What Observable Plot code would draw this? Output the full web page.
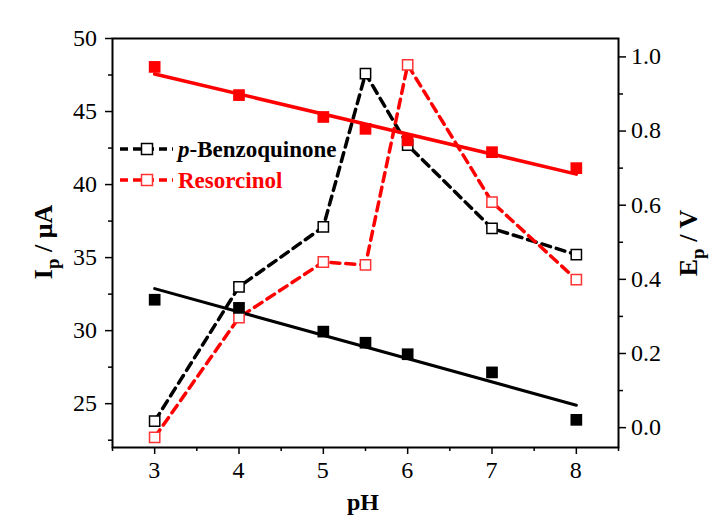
<!DOCTYPE html>
<html>
<head>
<meta charset="utf-8">
<script src="https://cdn.jsdelivr.net/npm/d3@7"></script>
<script src="https://cdn.jsdelivr.net/npm/@observablehq/plot@0.6"></script>
<style>
  html, body { margin: 0; padding: 0; background: #fff; }
  #chart svg { display: block; }
  #chart svg text, #chart svg tspan { font-family: "Liberation Serif", serif !important; }
</style>
</head>
<body>
<div id="chart"></div>
<script>
// ---- data ----
const ph = [3, 4, 5, 5.5, 6, 7, 8];
const ipBenzoquinone = [23.8, 33.0, 37.1, 47.6, 42.7, 37.0, 35.2];   // µA (left axis)
const ipResorcinol   = [22.7, 30.9, 34.7, 34.5, 48.2, 38.8, 33.5];   // µA (left axis)
const epBenzoquinone = [0.345, 0.323, 0.259, 0.229, 0.198, 0.149, 0.021]; // V (right axis)
const epResorcinol   = [0.973, 0.897, 0.838, 0.806, 0.775, 0.743, 0.700]; // V (right axis)
const xTicks = [3, 4, 5, 6, 7, 8];
const xMinor = [2.5, 3.5, 4.5, 5.5, 6.5, 7.5, 8.5];
const yLeftTicks = [25, 30, 35, 40, 45, 50];
const yLeftMinor = [22.5, 27.5, 32.5, 37.5, 42.5, 47.5];
const yRightTicks = [0.0, 0.2, 0.4, 0.6, 0.8, 1.0];
const yRightMinor = [0.1, 0.3, 0.5, 0.7, 0.9];
const seriesNames = ["Benzoquinone", "Resorcinol"];

// map right axis (V) into left-axis units (µA)
const toLeft = e => 23.36 + e * 25.38;

const ipRows = (arr) => ph.map((p, i) => ({ph: p, v: arr[i]}));
const epRows = (arr) => ph.map((p, i) => ({ph: p, v: toLeft(arr[i])}));

const bqIp = ipRows(ipBenzoquinone), resIp = ipRows(ipResorcinol);
const bqEp = epRows(epBenzoquinone), resEp = epRows(epResorcinol);

const RED = "#ff0000";
const FONT = "Liberation Serif";

const majorStyle = {tickSize: 7, strokeWidth: 1.5, tickFormat: () => "", label: null};
const minorStyle = {tickSize: 4, strokeWidth: 1.5, tickFormat: () => "", label: null};

const svg = Plot.plot({
  width: 709,
  height: 518,
  marginLeft: 112,
  marginRight: 91,
  marginTop: 38,
  marginBottom: 71,
  style: {background: "#fff", color: "#000"},
  x: {domain: [2.5, 8.5], label: null},
  y: {domain: [22, 50], label: null},
  marks: [
    Plot.axisY(yLeftTicks, {anchor: "left", ...majorStyle}),
    Plot.axisY(yLeftMinor, {anchor: "left", ...minorStyle}),
    Plot.axisY(yRightTicks.map(toLeft), {anchor: "right", ...majorStyle}),
    Plot.axisY(yRightMinor.map(toLeft), {anchor: "right", ...minorStyle}),
    Plot.axisX(xTicks, {anchor: "bottom", ...majorStyle}),
    Plot.axisX(xMinor, {anchor: "bottom", ...minorStyle}),
    // dashed current curves
    Plot.line(bqIp, {x: "ph", y: "v", stroke: "black", strokeWidth: 3.5, strokeDasharray: "9,6"}),
    Plot.line(resIp, {x: "ph", y: "v", stroke: RED, strokeWidth: 3.5, strokeDasharray: "9,6"}),
    // linear fits of peak potentials
    Plot.linearRegressionY(bqEp, {x: "ph", y: "v", stroke: "black", strokeWidth: 3, ci: 0}),
    Plot.linearRegressionY(resEp, {x: "ph", y: "v", stroke: RED, strokeWidth: 3.5, ci: 0}),
    // open squares (Ip)
    Plot.dot(bqIp, {x: "ph", y: "v", symbol: "square", r: 5.8, fill: "white", stroke: "black", strokeWidth: 1.5}),
    Plot.dot(resIp, {x: "ph", y: "v", symbol: "square", r: 5.8, fill: "white", stroke: "#f33", strokeWidth: 1.5}),
    // filled squares (Ep)
    Plot.dot(bqEp, {x: "ph", y: "v", symbol: "square", r: 6.6, fill: "black"}),
    Plot.dot(resEp, {x: "ph", y: "v", symbol: "square", r: 6.6, fill: RED}),
    Plot.frame({stroke: "black", strokeWidth: 2})
  ]
});

const s = d3.select(svg);
const xs = svg.scale("x"), ys = svg.scale("y");
const mk = (sel) => sel.attr("font-family", FONT).attr("font-size", 24).attr("fill", "black")
  .style("font-family", FONT).style("font-variant", "normal");

// tick labels, positioned with Plot's own scales
const tl = s.append("g");
yLeftTicks.forEach(v => mk(tl.append("text")).attr("x", 97).attr("y", ys.apply(v)).attr("dy", "0.33em")
  .attr("text-anchor", "end").text(String(v)));
yRightTicks.forEach(v => mk(tl.append("text")).attr("x", 631).attr("y", ys.apply(toLeft(v))).attr("dy", "0.33em")
  .attr("text-anchor", "start").text(v.toFixed(1)));
xTicks.forEach(v => mk(tl.append("text")).attr("x", xs.apply(v)).attr("y", 478)
  .attr("text-anchor", "middle").text(String(v)));

// axis titles
const lt = s.append("text")
  .attr("transform", "translate(52,242) rotate(-90)")
  .attr("text-anchor", "middle")
  .attr("font-weight", "bold").attr("font-size", 26).attr("fill", "black");
lt.append("tspan").text("I");
lt.append("tspan").attr("dy", 7).attr("font-size", 19).text("p");
lt.append("tspan").attr("dy", -7).text(" / μA");

const rt = s.append("text")
  .attr("transform", "translate(697,243) rotate(-90)")
  .attr("text-anchor", "middle")
  .attr("font-weight", "bold").attr("font-size", 26).attr("fill", "black");
rt.append("tspan").text("E");
rt.append("tspan").attr("dy", 7).attr("font-size", 19).text("p");
rt.append("tspan").attr("dy", -7).text(" / V");

s.append("text")
  .attr("x", 363).attr("y", 510)
  .attr("text-anchor", "middle")
  .attr("font-weight", "bold").attr("font-size", 24).attr("fill", "black")
  .text("pH");

// legend
const legend = [
  {color: "black", sq: "black", y: 149, label: seriesNames[0], italic: "p", ty: 157},
  {color: RED, sq: "#f33", y: 180, label: seriesNames[1], italic: null, ty: 188}
];
const lg = s.append("g");
legend.forEach(d => {
  lg.append("line").attr("x1", 120).attr("x2", 173).attr("y1", d.y).attr("y2", d.y)
    .attr("stroke", d.color).attr("stroke-width", 3.5).attr("stroke-dasharray", "8,5");
  lg.append("rect").attr("x", 141.5).attr("y", d.y - 5.5).attr("width", 11).attr("height", 11)
    .attr("fill", "white").attr("stroke", d.sq).attr("stroke-width", 1.5);
  const t = lg.append("text").attr("x", 178).attr("y", d.ty)
    .attr("text-anchor", "start")
    .attr("font-weight", "bold").attr("font-size", 23).attr("fill", d.color);
  if (d.italic) {
    t.append("tspan").attr("font-style", "italic").text(d.italic);
    t.append("tspan").text("-" + d.label);
  } else {
    t.append("tspan").text(d.label);
  }
});

document.getElementById("chart").appendChild(svg);
</script>
</body>
</html>
